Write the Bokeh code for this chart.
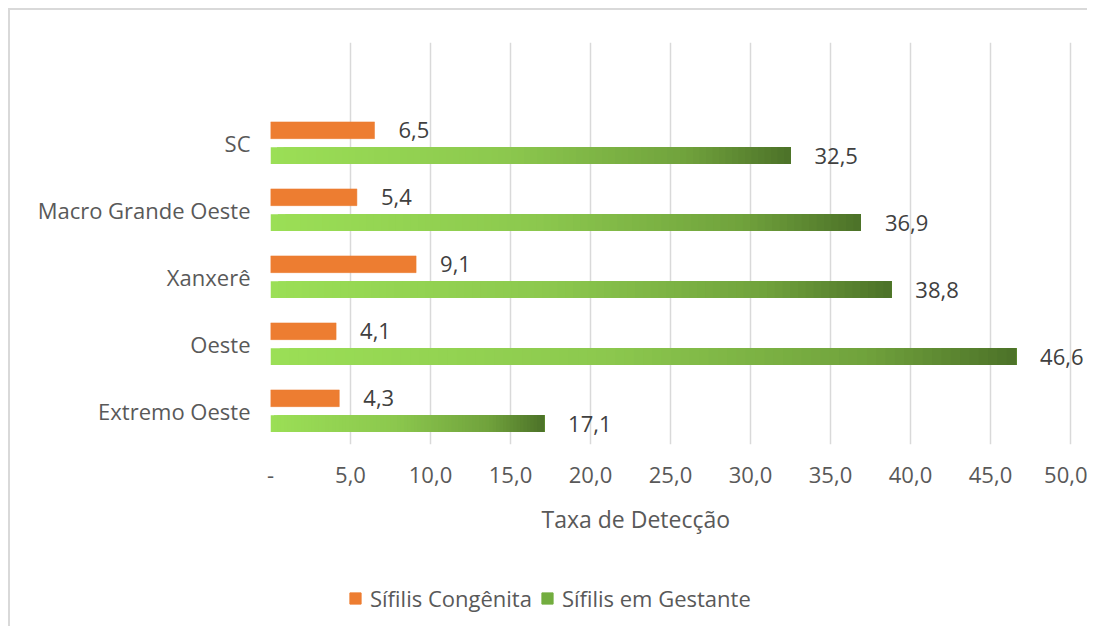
from bokeh.plotting import figure
from bokeh.layouts import column
from bokeh.models import (FixedTicker, LabelSet, ColumnDataSource, Legend,
                          LegendItem, Range1d, Title)
from bokeh.core.properties import value
from bokeh.embed import file_html
from bokeh.resources import INLINE

# ---- data ----
categories = ["Extremo Oeste", "Oeste", "Xanxerê", "Macro Grande Oeste", "SC"]
congenita = [4.3, 4.1, 9.1, 5.4, 6.5]
gestante = [17.1, 46.6, 38.8, 36.9, 32.5]
series_names = ["Sífilis Congênita", "Sífilis em Gestante"]
x_ticks = [0, 5, 10, 15, 20, 25, 30, 35, 40, 45, 50]
x_title = "Taxa de Detecção"

# ---- style ----
FONT = "Open Sans"
FS = "22px"
TXT = "#595959"
ORANGE = "#ED7D31"
GREEN_MID = "#73AD3F"
stops = [(0.0, (155, 223, 86)), (0.45, (140, 200, 78)), (0.8, (112, 162, 60)), (1.0, (76, 113, 40))]


def grad_color(t):
    for (t0, c0), (t1, c1) in zip(stops[:-1], stops[1:]):
        if t <= t1:
            f = (t - t0) / (t1 - t0) if t1 > t0 else 0
            c = [int(round(a + (b - a) * f)) for a, b in zip(c0, c1)]
            return "#%02x%02x%02x" % tuple(c)
    return "#%02x%02x%02x" % stops[-1][1]


ypos = list(range(len(categories)))
off = 0.19
bh = 0.25
W = 1077
x_end = x_ticks[-1] + 17 / 16  # leave room so outside-end labels are not clipped

p = figure(width=W, height=570, output_backend="svg", toolbar_location=None,
           x_range=Range1d(0, x_end), y_range=Range1d(-0.5, 5.5),
           min_border_left=260, min_border_right=0, min_border_top=32,
           min_border_bottom=136)
p.outline_line_color = None
p.background_fill_color = "white"

p.hbar(y=[y + off for y in ypos], height=bh, left=0, right=congenita,
       fill_color=ORANGE, line_color=ORANGE, line_width=0.5)

# gradient bars: stacked layers, each from a fraction of the value to its end
N = 80
gy, gl, gr, gc = [], [], [], []
for i in range(N):
    for y, v in zip(ypos, gestante):
        gy.append(y - off)
        gl.append(v * i / N)
        gr.append(v)
        gc.append(grad_color((i + 0.5) / N))
gsrc = ColumnDataSource(dict(y=gy, left=gl, right=gr, color=gc))
p.hbar(y="y", height=bh, left="left", right="right", fill_color="color",
       line_color=None, source=gsrc)


def fmt(v):
    return f"{v:.1f}".replace(".", ",")


lab_src = ColumnDataSource(dict(
    x=congenita + gestante,
    y=[y + off for y in ypos] + [y - off for y in ypos],
    t=[fmt(v) for v in congenita] + [fmt(v) for v in gestante]))
p.add_layout(LabelSet(x="x", y="y", text="t", source=lab_src, x_offset=24,
                      text_baseline="middle", text_font=value(FONT),
                      text_font_size=value(FS), text_color="#404040"))

p.xaxis.ticker = FixedTicker(ticks=x_ticks)
p.xaxis.major_label_overrides = {t: ("-" if t == 0 else fmt(t)) for t in x_ticks}
p.xaxis.axis_line_color = None
p.xaxis.major_tick_line_color = None
p.xaxis.minor_tick_line_color = None
p.xaxis.major_label_standoff = 16
p.xaxis.major_label_text_font = FONT
p.xaxis.major_label_text_font_size = FS
p.xaxis.major_label_text_color = TXT

p.add_layout(Title(text=x_title, align="left", offset=271, standoff=30,
                   text_font=FONT, text_font_size="23px", text_font_style="normal",
                   text_color=TXT), "below")

p.yaxis.ticker = FixedTicker(ticks=ypos)
p.yaxis.major_label_overrides = {y: c for y, c in zip(ypos, categories)}
p.yaxis.axis_line_color = None
p.yaxis.major_tick_line_color = None
p.yaxis.minor_tick_line_color = None
p.yaxis.major_label_standoff = 14
p.yaxis.major_label_text_font = FONT
p.yaxis.major_label_text_font_size = FS
p.yaxis.major_label_text_color = TXT

p.ygrid.grid_line_color = None
p.xgrid.grid_line_color = "#d9d9d9"
p.xgrid.grid_line_width = 1.5

# legend panel (its bars are kept outside the visible range; only keys show)
lg = figure(width=W, height=46, output_backend="svg", toolbar_location=None,
            x_range=Range1d(0, 1), y_range=Range1d(100, 101),
            min_border=0, min_border_left=0, min_border_right=0,
            min_border_top=0, min_border_bottom=0)
lg.axis.visible = False
lg.grid.visible = False
lg.outline_line_color = None
l_or = lg.hbar(y=ypos, height=bh, left=0, right=congenita,
               fill_color=ORANGE, line_color=ORANGE)
l_gr = lg.hbar(y=ypos, height=bh, left=0, right=gestante,
               fill_color=GREEN_MID, line_color=GREEN_MID)
legend = Legend(items=[LegendItem(label=series_names[0], renderers=[l_or]),
                       LegendItem(label=series_names[1], renderers=[l_gr])],
                location=(78, 13), orientation="horizontal",
                glyph_width=14, glyph_height=14, label_standoff=8, spacing=8,
                padding=0, margin=0, border_line_color=None,
                background_fill_alpha=0,
                label_text_font=FONT, label_text_font_size=FS,
                label_text_color=TXT)
lg.add_layout(legend, "center")

layout = column(p, lg, spacing=0)
layout.styles = {"position": "relative", "left": "8px", "top": "8px",
                 "border-left": "2px solid #d9d9d9",
                 "border-top": "2px solid #d9d9d9"}

open("out.html", "w").write(file_html(layout, INLINE))
